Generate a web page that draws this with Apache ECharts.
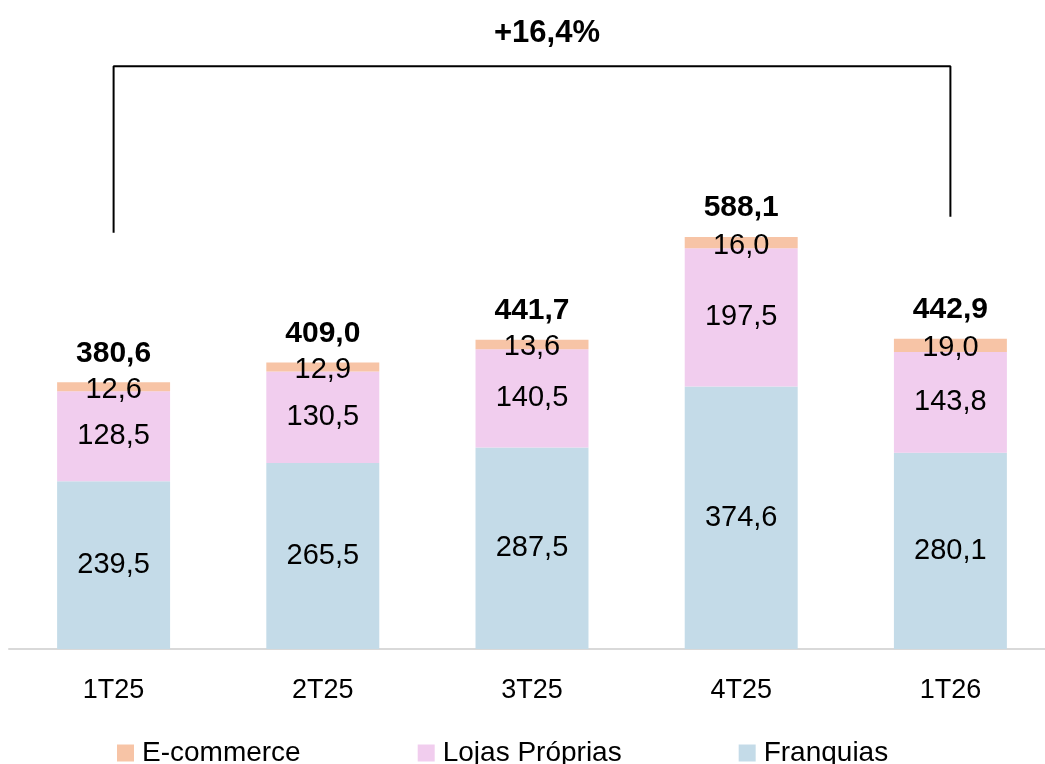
<!DOCTYPE html>
<html><head><meta charset="utf-8">
<script src="https://cdn.jsdelivr.net/npm/echarts@6/dist/echarts.min.js"></script>
<style>html,body{margin:0;padding:0;background:#fff}#c{width:1045px;height:764px}</style>
</head><body><div id="c"></div>
<script>
const categories = ['1T25','2T25','3T25','4T25','1T26'];
const franquias = [239.5, 265.5, 287.5, 374.6, 280.1];
const lojasProprias = [128.5, 130.5, 140.5, 197.5, 143.8];
const ecommerce = [12.6, 12.9, 13.6, 16.0, 19.0];
const totals = [380.6, 409.0, 441.7, 588.1, 442.9];
const growthLabel = '+16,4%';
const bracket = [['1T25', 594], ['1T25', 832], ['1T26', 832], ['1T26', 617]];

const FONT = 'Liberation Sans';
const fmt = v => v.toFixed(1).replace('.', ',');
const chart = echarts.init(document.getElementById('c'), null, {renderer: 'canvas'});
const segLabel = {show: true, position: 'inside', color: '#000', fontSize: 29, fontFamily: FONT,
  formatter: p => fmt(p.value)};
chart.setOption({
  animation: false,
  title: {text: growthLabel, left: 489, top: 13,
    textStyle: {fontSize: 31, fontWeight: 'bold', color: '#000', fontFamily: FONT}},
  legend: {data: ['E-commerce', 'Lojas Próprias', 'Franquias'], left: 117, top: 739, padding: 0,
    itemWidth: 17, itemHeight: 17, itemGap: 117, icon: 'rect',
    textStyle: {fontSize: 28, color: '#000', fontFamily: FONT, padding: [0, 0, 0, 3]}},
  grid: {left: 9, width: 1046, top: 18.5, bottom: 115, outerBoundsMode: 'none', containLabel: false},
  xAxis: {type: 'category', data: categories,
    axisLine: {lineStyle: {color: '#d9d9d9', width: 2}}, axisTick: {show: false},
    axisLabel: {color: '#000', fontSize: 27, fontFamily: FONT, margin: 28}},
  yAxis: {type: 'value', min: 0, max: 900, show: false, splitLine: {show: false}},
  series: [
    {name: 'Franquias', type: 'bar', stack: 's', barWidth: '54%', data: franquias,
      itemStyle: {color: '#c4dbe8'}, label: segLabel},
    {name: 'Lojas Próprias', type: 'bar', stack: 's', data: lojasProprias,
      itemStyle: {color: '#f1cdee'}, label: segLabel},
    {name: 'E-commerce', type: 'bar', stack: 's', data: ecommerce,
      itemStyle: {color: '#f7c4a6'}, label: Object.assign({}, segLabel, {offset: [0, 3]})},
    {name: 'total', type: 'scatter', data: totals, symbolSize: 0, silent: true,
      itemStyle: {opacity: 1},
      label: {show: true, position: 'inside', offset: [0, -29], color: '#000', fontSize: 30,
        fontWeight: 'bold', fontFamily: FONT, formatter: p => fmt(p.value)}},
    {name: 'bracket', type: 'line', data: bracket, symbol: 'none', silent: true,
      lineStyle: {color: '#000', width: 2}}
  ]
});
</script></body></html>
